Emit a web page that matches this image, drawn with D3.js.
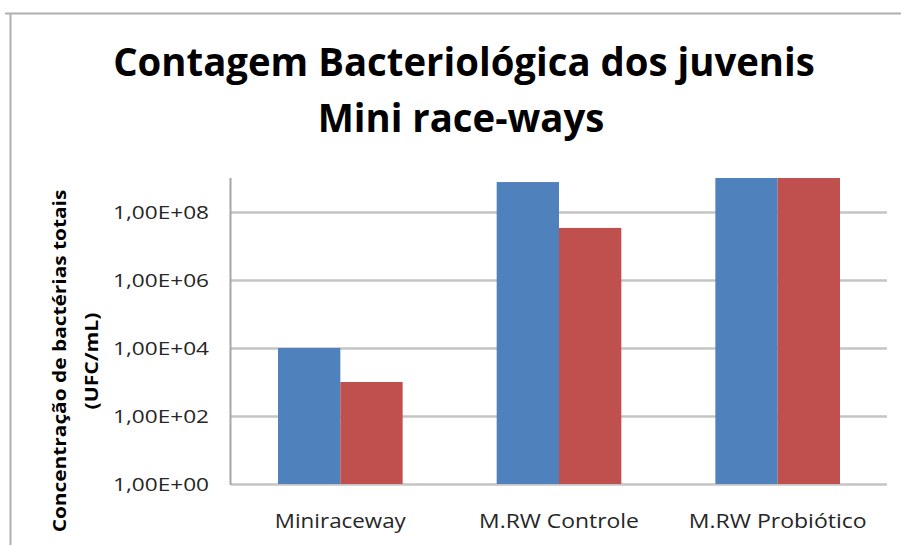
<!DOCTYPE html>
<html>
<head>
<meta charset="utf-8">
<script src="https://cdn.jsdelivr.net/npm/d3@7"></script>
<style>
  body { margin: 0; background: #fff; }
  text { font-family: "Open Sans", "Noto Sans", sans-serif; }
</style>
</head>
<body>
<script>
// chart data
var categories = ["Miniraceway", "M.RW Controle", "M.RW Probiótico"];
var series = ["Série 1", "Série 2"];
var serie1 = [1e4, 7.6e8, 1e9];
var serie2 = [1e3, 3.4e7, 1e9];
var tickValues = [1e0, 1e2, 1e4, 1e6, 1e8];
var tickLabels = ["1,00E+00", "1,00E+02", "1,00E+04", "1,00E+06", "1,00E+08"];
var colors = ["#4f81bd", "#c0504d"];

var width = 901,
    height = 545;

var plot = {left: 231, right: 887, top: 178, bottom: 484};

var svg = d3.select("body").append("svg")
    .attr("width", width)
    .attr("height", height);

svg.append("rect")
    .attr("width", width)
    .attr("height", height)
    .attr("fill", "#fff");

// chart frame (only top and left edges are visible)
svg.append("path")
    .attr("d", "M5,13.5H901M10.5,13V545")
    .attr("fill", "none")
    .attr("stroke", "#b0b0b0")
    .attr("stroke-width", 2);

// draws a text squeezed horizontally so it takes width w
// (the original font is narrower than what we have)
function label(parent, str, x, y, size, w, opts) {
    opts = opts || {};
    var t = parent.append("text")
        .attr("text-anchor", opts.anchor || "middle")
        .attr("font-size", size)
        .attr("font-weight", opts.bold ? "bold" : null)
        .attr("fill", opts.fill || "#000")
        .text(str);
    var sx = w / t.node().getComputedTextLength();
    t.attr("transform", "translate(" + x + "," + y + ")" +
        (opts.rotate ? " rotate(" + opts.rotate + ")" : "") +
        " scale(" + sx + ",1)");
    return sx;
}

// title
var sx = label(svg, "Contagem Bacteriológica dos juvenis", 464, 76, 39, 702, {bold: true});
svg.append("text")
    .attr("text-anchor", "middle")
    .attr("font-size", 39)
    .attr("font-weight", "bold")
    .attr("transform", "translate(461,132) scale(" + sx + ",1)")
    .text("Mini race-ways");

var x0 = d3.scaleBand()
    .domain(categories)
    .range([plot.left, plot.right])
    .paddingInner(0.43)
    .paddingOuter(0.215);

var x1 = d3.scaleBand()
    .domain(series)
    .range([0, x0.bandwidth()]);

var y = d3.scaleLog()
    .domain([1, 1e9])
    .range([plot.bottom, plot.top]);

// gridlines
svg.append("g")
    .selectAll("line")
    .data(tickValues)
    .join("line")
    .attr("x1", plot.left)
    .attr("x2", plot.right)
    .attr("y1", d => Math.round(y(d)) + 0.5)
    .attr("y2", d => Math.round(y(d)) + 0.5)
    .attr("stroke", "#c4c4c4")
    .attr("stroke-width", 2.5);

// bars
var rows = categories.map((c, i) => ({cat: c, vals: [serie1[i], serie2[i]]}));
svg.append("g")
    .selectAll("g")
    .data(rows)
    .join("g")
    .attr("transform", d => "translate(" + x0(d.cat) + ",0)")
    .selectAll("rect")
    .data(d => d.vals.map((v, j) => ({s: series[j], v: v, j: j})))
    .join("rect")
    .attr("x", d => x1(d.s))
    .attr("width", x1.bandwidth())
    .attr("y", d => y(d.v))
    .attr("height", d => y(1) - y(d.v))
    .attr("fill", d => colors[d.j]);

// y axis line
svg.append("line")
    .attr("x1", plot.left - 0.5).attr("x2", plot.left - 0.5)
    .attr("y1", plot.top).attr("y2", plot.bottom + 1)
    .attr("stroke", "#a6a6a6")
    .attr("stroke-width", 2);

// y tick labels
var gy = svg.append("g");
tickValues.forEach(function(v, i) {
    label(gy, tickLabels[i], 209, y(v) + 7, 19, 96, {anchor: "end", fill: "#262626"});
});

// x labels
var gx = svg.append("g");
var xw = [131, 160, 178];
categories.forEach(function(c, i) {
    label(gx, c, x0(c) + x0.bandwidth() / 2, 528, 20, xw[i], {fill: "#262626"});
});

// y axis title
label(svg, "Concentração de bactérias totais", 66, 361, 18, 343, {bold: true, rotate: -90});
label(svg, "(UFC/mL)", 98, 361, 18, 97, {bold: true, rotate: -90});
</script>
</body>
</html>
